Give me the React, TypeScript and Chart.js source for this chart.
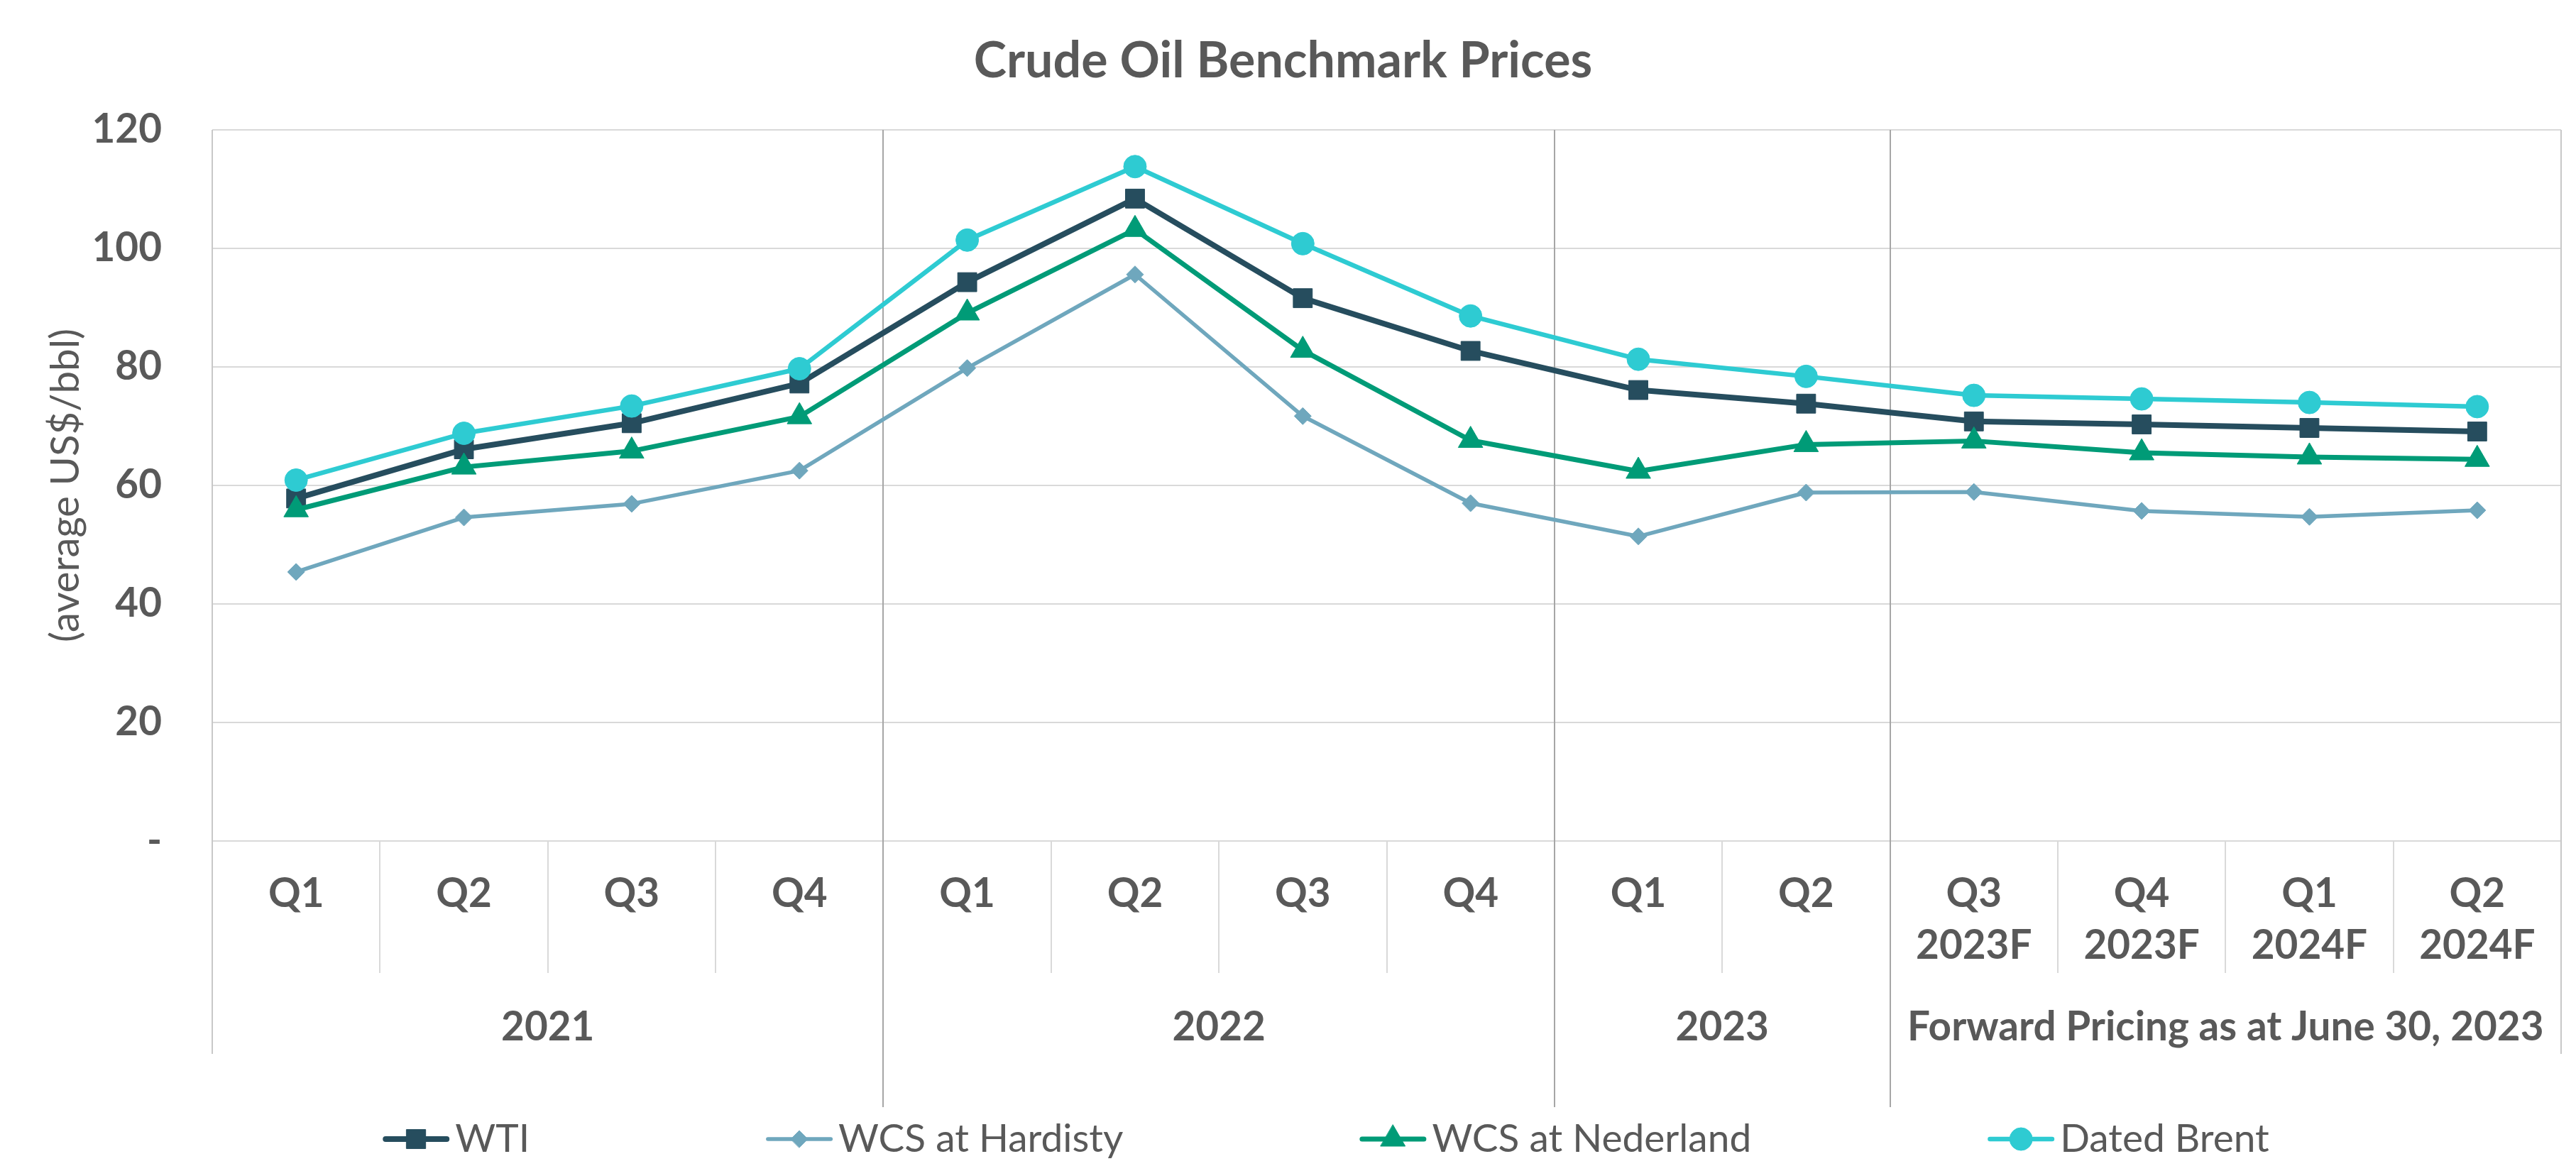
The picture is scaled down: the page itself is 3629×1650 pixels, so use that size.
import React, { useEffect, useRef } from 'react';
import { Chart, registerables } from 'chart.js';
import { drawPoint } from 'chart.js/helpers';

Chart.register(...registerables);

const FONT = "Lato, 'Noto Sans', sans-serif";
const TEXT = '#595959';

const chartTitle = 'Crude Oil Benchmark Prices';
const yAxisTitle = '(average US$/bbl)';

const quarterLabels: (string | string[])[] = [
  'Q1', 'Q2', 'Q3', 'Q4',
  'Q1', 'Q2', 'Q3', 'Q4',
  'Q1', 'Q2',
  ['Q3', '2023F'], ['Q4', '2023F'], ['Q1', '2024F'], ['Q2', '2024F'],
];
const yearLabels = ['2021', '2022', '2023', 'Forward Pricing as at June 30, 2023'];
const yearSpans = [4, 4, 2, 4];

const seriesNames = ['WTI', 'WCS at Hardisty', 'WCS at Nederland', 'Dated Brent'];
const wti = [57.8, 66.1, 70.5, 77.2, 94.3, 108.4, 91.6, 82.7, 76.1, 73.8, 70.8, 70.3, 69.7, 69.1];
const wcsHardisty = [45.4, 54.6, 56.9, 62.5, 79.8, 95.6, 71.7, 57.0, 51.4, 58.8, 58.9, 55.7, 54.7, 55.8];
const wcsNederland = [55.9, 63.1, 65.8, 71.6, 89.1, 103.2, 82.8, 67.6, 62.4, 66.9, 67.5, 65.5, 64.8, 64.4];
const datedBrent = [60.9, 68.8, 73.4, 79.7, 101.4, 113.8, 100.8, 88.6, 81.3, 78.4, 75.2, 74.6, 74.0, 73.3];

const yMin = 0;
const yMax = 120;
const yStep = 20;

// group centres / boundaries in category-index units, derived from spans
const yearCenters: number[] = [];
const yearBoundaries: number[] = [];
{
  let start = 0;
  yearSpans.forEach((s, i) => {
    yearCenters.push(start + s / 2 - 0.5);
    start += s;
    if (i < yearSpans.length - 1) yearBoundaries.push(start - 0.5);
  });
}

const W = 3629;
const H = 1650;

export default function App() {
  const ref = useRef<HTMLCanvasElement>(null);

  useEffect(() => {
    document.body.style.margin = '0';
    document.documentElement.style.overflow = 'hidden';
    const canvas = ref.current!;

    const mctx = document.createElement('canvas').getContext('2d')!;
    const fit = (text: string, weight: string, target: number) => {
      mctx.font = `${weight} 100px ${FONT}`;
      return (100 * target) / mctx.measureText(text).width;
    };
    const BUMP = 1.04;
    const labelSize = fit(yearLabels[3], 'bold', 862) * BUMP;
    const titleSize = fit(chartTitle, 'bold', 838) * BUMP;
    const legendSize = fit('WCS at Hardisty', 'normal', 386) * BUMP;
    const yTitleSize = fit(yAxisTitle, 'normal', 425) * BUMP;

    const labelFont = { family: FONT, weight: 'bold' as const, size: labelSize, lineHeight: '73px' };

    const dividerPlugin = {
      id: 'dividers',
      beforeDatasetsDraw(chart: any) {
        const { ctx, chartArea } = chart;
        const x = chart.scales.x;
        const x2 = chart.scales.x2;
        ctx.save();
        ctx.lineWidth = 2;
        ctx.strokeStyle = '#A6A6A6';
        yearBoundaries.forEach((b) => {
          const px = Math.round(x.getPixelForValue(b));
          ctx.beginPath();
          ctx.moveTo(px, chartArea.top);
          ctx.lineTo(px, x2.bottom);
          ctx.stroke();
        });
        ctx.strokeStyle = '#C8C8C8';
        [-0.5, quarterLabels.length - 0.5].forEach((b) => {
          const px = Math.round(x.getPixelForValue(b));
          ctx.beginPath();
          ctx.moveTo(px, chartArea.top);
          ctx.lineTo(px, x2.top + 114);
          ctx.stroke();
        });
        ctx.restore();
      },
    };

    const legendPlugin = {
      id: 'lineLegend',
      afterDraw(chart: any) {
        const ctx = chart.ctx as CanvasRenderingContext2D;
        const LINE = 94;
        const GAP = 8;
        const ITEM_GAP = 333;
        const CX = 1868;
        const CY = 1605;
        ctx.save();
        ctx.font = `normal ${legendSize}px ${FONT}`;
        const items = chart.data.datasets.map((ds: any) => ({ ds, w: ctx.measureText(ds.label).width }));
        const total =
          items.reduce((s: number, it: any) => s + LINE + GAP + it.w, 0) + ITEM_GAP * (items.length - 1);
        let x = CX - total / 2;
        items.forEach(({ ds, w }: any) => {
          ctx.strokeStyle = ds.borderColor;
          ctx.fillStyle = ds.borderColor;
          ctx.lineWidth = ds.borderWidth;
          ctx.lineCap = 'round';
          ctx.beginPath();
          ctx.moveTo(x + ds.borderWidth / 2, CY);
          ctx.lineTo(x + LINE - ds.borderWidth / 2, CY);
          ctx.stroke();
          ctx.lineWidth = 1;
          drawPoint(ctx, { pointStyle: ds.pointStyle, radius: ds.pointRadius, rotation: 0, borderWidth: 1 }, x + LINE / 2, CY);
          ctx.fillStyle = TEXT;
          ctx.textAlign = 'left';
          ctx.textBaseline = 'middle';
          ctx.fillText(ds.label, x + LINE + GAP, CY);
          x += LINE + GAP + w + ITEM_GAP;
        });
        ctx.restore();
      },
    };

    const mk = (label: string, data: number[], color: string, style: string, radius: number, width: number, order: number) => ({
      label,
      data,
      borderColor: color,
      backgroundColor: color,
      pointBackgroundColor: color,
      pointBorderColor: color,
      pointBorderWidth: 1,
      pointStyle: style,
      pointRadius: radius,
      pointHoverRadius: radius,
      borderWidth: width,
      borderJoinStyle: 'round',
      borderCapStyle: 'round',
      tension: 0,
      fill: false,
      order,
    });

    const titlePadTop = 86 - 0.6 * titleSize;
    const titlePadBottom = 183 - titlePadTop - 1.2 * titleSize;

    const chart = new Chart(canvas, {
      type: 'line',
      data: {
        labels: quarterLabels,
        datasets: [
          mk(seriesNames[0], wti, '#264D5E', 'rect', 19, 8, 3),
          mk(seriesNames[1], wcsHardisty, '#6FA7BD', 'rectRot', 12, 5.5, 2),
          mk(seriesNames[2], wcsNederland, '#009B77', 'triangle', 20, 7, 1),
          mk(seriesNames[3], datedBrent, '#2ECBD2', 'circle', 16, 6.5, 0),
        ] as any,
      },
      options: {
        animation: false,
        responsive: false,
        devicePixelRatio: 1,
        events: [],
        layout: { padding: { left: 0, right: 14, top: 0, bottom: 90 } },
        plugins: {
          legend: { display: false },
          tooltip: { enabled: false },
          title: {
            display: true,
            text: chartTitle,
            color: TEXT,
            font: { family: FONT, weight: 'bold', size: titleSize, lineHeight: 1.2 },
            padding: { top: titlePadTop, bottom: titlePadBottom },
          },
        },
        scales: {
          x: {
            type: 'category',
            position: 'bottom',
            offset: true,
            weight: 0,
            grid: {
              display: true,
              drawOnChartArea: false,
              drawTicks: true,
              tickLength: 186,
              offset: true,
              color: '#D9D9D9',
              lineWidth: 2,
            },
            border: { display: false },
            ticks: {
              autoSkip: false,
              maxRotation: 0,
              minRotation: 0,
              padding: 38.5 - 186,
              color: TEXT,
              font: labelFont,
            },
            afterFit: (s: any) => {
              s.height = 186;
            },
          },
          x2: {
            type: 'linear',
            position: 'bottom',
            weight: 1,
            min: -0.5,
            max: quarterLabels.length - 0.5,
            grid: { display: false, drawTicks: false, drawOnChartArea: false },
            border: { display: false },
            afterBuildTicks: (axis: any) => {
              axis.ticks = yearCenters.map((v) => ({ value: v }));
            },
            ticks: {
              autoSkip: false,
              maxRotation: 0,
              minRotation: 0,
              padding: 40.5,
              color: TEXT,
              font: labelFont,
              callback: (v: any) => {
                const i = yearCenters.indexOf(Number(v));
                return i >= 0 ? yearLabels[i] : '';
              },
            },
            afterFit: (s: any) => {
              s.height = 189;
            },
          },
          y: {
            type: 'linear',
            position: 'left',
            min: yMin,
            max: yMax,
            grid: { color: '#D9D9D9', lineWidth: 2, drawTicks: false },
            border: { display: false },
            ticks: {
              stepSize: yStep,
              padding: 71,
              color: TEXT,
              font: { family: FONT, weight: 'bold', size: labelSize },
              callback: (v: any) => (Number(v) === 0 ? '-' : String(v)),
            },
            title: {
              display: true,
              text: yAxisTitle,
              color: TEXT,
              font: { family: FONT, weight: 'normal', size: yTitleSize, lineHeight: 1.2 },
              padding: { top: 93 - 0.6 * yTitleSize, bottom: 0 },
            },
            afterFit: (s: any) => {
              s.width = 299;
            },
          },
        },
      } as any,
      plugins: [dividerPlugin, legendPlugin],
    });

    return () => chart.destroy();
  }, []);

  return (
    <div style={{ width: W, height: H }}>
      <canvas ref={ref} width={W} height={H} style={{ display: 'block', width: W, height: H }} />
    </div>
  );
}
